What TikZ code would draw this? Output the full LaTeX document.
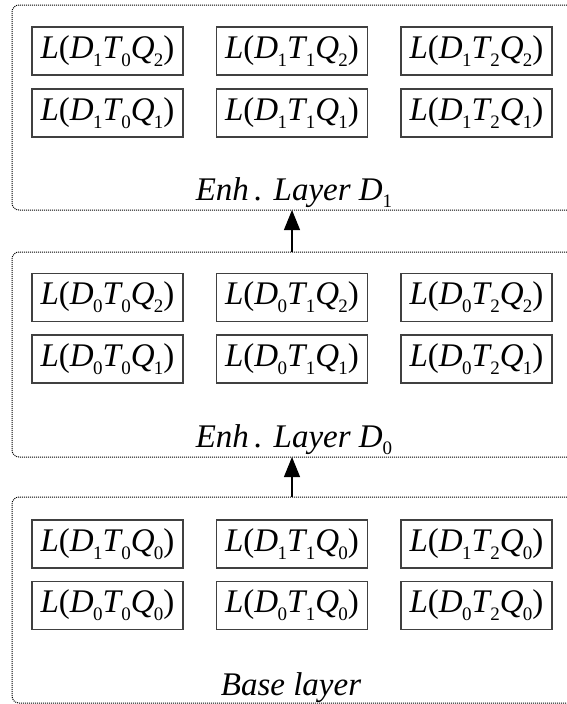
\documentclass[tikz,border=0pt]{standalone}
\usepackage{fontspec}
\setmainfont{Liberation Serif}
\usetikzlibrary{arrows.meta}
\newcommand\subd[1]{\raisebox{-0.24em}{\upshape\fontsize{19}{19}\selectfont #1}}
\newcommand\lterm[3]{\textit{L}(\textit{D}\kern-0.02em\subd{#1}\textit{T}\kern-0.05em\subd{#2}\textit{Q}\kern-0.02em\subd{#3})}
\begin{document}
\begin{tikzpicture}[x=1pt,y=1pt,
  cell/.style={draw=black!75,line width=1.2pt,minimum width=151pt,minimum height=48pt,inner sep=0pt,font=\fontsize{33}{38}\selectfont},
  frame/.style={line width=1pt,dash pattern=on 1pt off 1pt,rounded corners=7pt},
  lab/.style={font=\fontsize{33}{36}\selectfont\itshape,anchor=base,inner sep=0pt},
  arr/.style={line width=1.1pt,-{Triangle[width=16pt,length=20pt]}}]
\useasboundingbox (0,0) rectangle (567,-704);
% frames
\draw[frame] (567,-5) -- (12,-5) -- (12,-210) -- (567,-210);
\draw[frame] (567,-252) -- (12,-252) -- (12,-457) -- (567,-457);
\draw[frame] (567,-497) -- (12,-497) -- (12,-703) -- (567,-703);
% top layer
\node[cell] (a12) at (107.5,-51) {\lterm{1}{0}{2}};
\node[cell] (b12) at (292,-51) {\lterm{1}{1}{2}};
\node[cell] (c12) at (476.5,-51) {\lterm{1}{2}{2}};
\node[cell] (a11) at (107.5,-113) {\lterm{1}{0}{1}};
\node[cell] (b11) at (292,-113) {\lterm{1}{1}{1}};
\node[cell] (c11) at (476.5,-113) {\lterm{1}{2}{1}};
\node[lab] (l1) at (294,-200) {Enh\,. Layer D\subd{1}};
% middle layer
\node[cell] (a02) at (107.5,-297.5) {\lterm{0}{0}{2}};
\node[cell] (b02) at (292,-297.5) {\lterm{0}{1}{2}};
\node[cell] (c02) at (476.5,-297.5) {\lterm{0}{2}{2}};
\node[cell] (a01) at (107.5,-359) {\lterm{0}{0}{1}};
\node[cell] (b01) at (292,-359) {\lterm{0}{1}{1}};
\node[cell] (c01) at (476.5,-359) {\lterm{0}{2}{1}};
\node[lab] (l0) at (294,-447) {Enh\,. Layer D\subd{0}};
% base layer
\node[cell] (a10) at (107.5,-544) {\lterm{1}{0}{0}};
\node[cell] (b10) at (292,-544) {\lterm{1}{1}{0}};
\node[cell] (c10) at (476.5,-544) {\lterm{1}{2}{0}};
\node[cell] (a00) at (107.5,-605.5) {\lterm{0}{0}{0}};
\node[cell] (b00) at (292,-605.5) {\lterm{0}{1}{0}};
\node[cell] (c00) at (476.5,-605.5) {\lterm{0}{2}{0}};
\node[lab] (lb) at (291,-695) {Base layer};
% arrows
\coordinate (f1b) at (292,-210);
\coordinate (f2t) at (292,-252);
\coordinate (f2b) at (292,-457);
\coordinate (f3t) at (292,-497);
\draw[arr] (f2t) -- (f1b);
\draw[arr] (f3t) -- (f2b);
\end{tikzpicture}
\end{document}
